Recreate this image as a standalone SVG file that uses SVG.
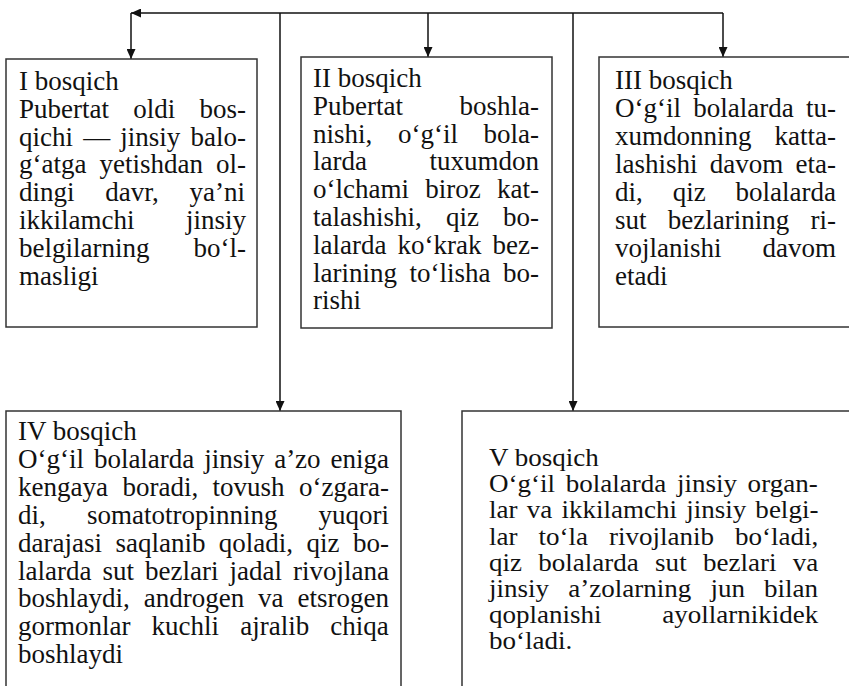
<svg xmlns="http://www.w3.org/2000/svg" width="849" height="686" viewBox="0 0 849 686">
<defs>
<marker id="ah" markerUnits="userSpaceOnUse" markerWidth="10" markerHeight="9" refX="10" refY="4.5" orient="auto">
<path d="M0,0 L10,4.5 L0,9 z" fill="#111"/>
</marker>
<style>
.box{fill:#fff;stroke:#333;stroke-width:1.5}
.con{fill:none;stroke:#111;stroke-width:1.5;marker-end:url(#ah)}
text{font-family:"Liberation Serif","Times New Roman",serif;font-size:27px;fill:#111}
.sm{font-size:25.5px}
</style>
</defs>
<rect width="849" height="686" fill="#fff"/>
<g id="connectors">
<path class="con" d="M723,13 L131,13"/>
<path class="con" d="M131,13 L131,59"/>
<path class="con" d="M280,13 L280,411"/>
<path class="con" d="M428,13 L428,57"/>
<path class="con" d="M573,13 L573,411"/>
<path class="con" d="M723,13 L723,57"/>
</g>
<g id="stage1">
<rect class="box" x="6" y="59" width="251" height="268"/>
<text x="19" y="90">I bosqich</text>
<text x="19" y="117.8" style="word-spacing:17.5px">Pubertat oldi bos-</text>
<text x="19" y="145.6" style="word-spacing:3.4px">qichi — jinsiy balo-</text>
<text x="19" y="173.4" style="word-spacing:6.3px">g‘atga yetishdan ol-</text>
<text x="19" y="201.2" style="word-spacing:23.9px">dingi davr, ya’ni</text>
<text x="19" y="229" style="word-spacing:44.7px">ikkilamchi jinsiy</text>
<text x="19" y="256.8" style="word-spacing:37.3px">belgilarning bo‘l-</text>
<text x="19" y="284.6">masligi</text>
</g>
<g id="stage2">
<rect class="box" x="301" y="57" width="251" height="271"/>
<text x="313" y="87">II bosqich</text>
<text x="313" y="114.8" style="word-spacing:49.8px">Pubertat boshla-</text>
<text x="313" y="142.6" style="word-spacing:18.9px">nishi, o‘g‘il bola-</text>
<text x="313" y="170.4" style="word-spacing:55.8px">larda tuxumdon</text>
<text x="313" y="198.2" style="word-spacing:9.5px">o‘lchami biroz kat-</text>
<text x="313" y="226" style="word-spacing:17.4px">talashishi, qiz bo-</text>
<text x="313" y="253.8" style="word-spacing:4.3px">lalarda ko‘krak bez-</text>
<text x="313" y="281.6" style="word-spacing:5.75px">larining to‘lisha bo-</text>
<text x="313" y="309.4">rishi</text>
</g>
<g id="stage3">
<rect class="box" x="599" y="57" width="262" height="270"/>
<text x="615" y="89">III bosqich</text>
<text x="615" y="117" style="word-spacing:5.5px">O‘g‘il bolalarda tu-</text>
<text x="615" y="145" style="word-spacing:16.3px">xumdonning katta-</text>
<text x="615" y="173" style="word-spacing:5.5px">lashishi davom eta-</text>
<text x="615" y="201" style="word-spacing:23.15px">di, qiz bolalarda</text>
<text x="615" y="229" style="word-spacing:14.5px">sut bezlarining ri-</text>
<text x="615" y="257" style="word-spacing:34.2px">vojlanishi davom</text>
<text x="615" y="285">etadi</text>
</g>
<g id="stage4">
<rect class="box" x="6" y="411" width="395" height="290"/>
<text x="18" y="440">IV bosqich</text>
<text x="18" y="467.9" style="word-spacing:3.15px">O‘g‘il bolalarda jinsiy a’zo eniga</text>
<text x="18" y="495.8" style="word-spacing:7.7px">kengaya boradi, tovush o‘zgara-</text>
<text x="18" y="523.7" style="word-spacing:34.4px">di, somatotropinning yuqori</text>
<text x="18" y="551.6" style="word-spacing:6.7px">darajasi saqlanib qoladi, qiz bo-</text>
<text x="18" y="579.5" style="word-spacing:4.3px">lalarda sut bezlari jadal rivojlana</text>
<text x="18" y="607.4" style="word-spacing:7.2px">boshlaydi, androgen va etsrogen</text>
<text x="18" y="635.3" style="word-spacing:14.4px">gormonlar kuchli ajralib chiqa</text>
<text x="18" y="663.2">boshlaydi</text>
</g>
<g id="stage5">
<rect class="box" x="462" y="411" width="400" height="290"/>
<g transform="translate(489,0) scale(1.06,1) translate(-489,0)">
<text class="sm" x="489" y="466">V bosqich</text>
<text class="sm" x="489" y="492.2" style="word-spacing:3.7px">O‘g‘il bolalarda jinsiy organ-</text>
<text class="sm" x="489" y="518.4" style="word-spacing:2.3px">lar va ikkilamchi jinsiy belgi-</text>
<text class="sm" x="489" y="544.6" style="word-spacing:13.4px">lar to‘la rivojlanib bo‘ladi,</text>
<text class="sm" x="489" y="570.8" style="word-spacing:9px">qiz bolalarda sut bezlari va</text>
<text class="sm" x="489" y="597" style="word-spacing:11.7px">jinsiy a’zolarning jun bilan</text>
<text class="sm" x="489" y="623.2" style="word-spacing:50.8px">qoplanishi ayollarnikidek</text>
<text class="sm" x="489" y="649.4">bo‘ladi.</text>
</g>
</g>
</svg>
